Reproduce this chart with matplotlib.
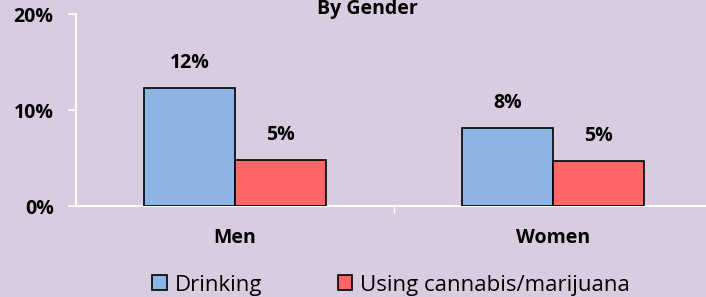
import matplotlib
matplotlib.use("Agg")
import matplotlib.pyplot as plt
from matplotlib.patches import Patch

categories = ["Men", "Women"]
drinking = [12.3, 8.1]
cannabis = [4.8, 4.7]
drinking_labels = ["12%", "8%"]
cannabis_labels = ["5%", "5%"]
yticks = [0, 10, 20]
ytick_labels = ["0%", "10%", "20%"]
series_names = ["Drinking", "Using cannabis/marijuana"]

bg = "#D9CCE1"
blue = "#8EB4E3"
red = "#FF6666"
plt.rcParams['font.family'] = ['Open Sans', 'DejaVu Sans']

fig = plt.figure(figsize=(7.06, 2.97), dpi=100)
fig.patch.set_facecolor(bg)
W, H = 706, 297
ax = fig.add_axes([76 / W, (H - 206) / H, 636 / W, 192 / H])
ax.set_facecolor(bg)

x = list(range(len(categories)))
bw = 0.286
ax.bar([i - bw / 2 for i in x], drinking, bw, color=blue, edgecolor="black", linewidth=1.2, zorder=3)
ax.bar([i + bw / 2 for i in x], cannabis, bw, color=red, edgecolor="black", linewidth=1.2, zorder=3)

fs = 14
for i in x:
    ax.text(i - bw / 2, drinking[i] + 2.6, drinking_labels[i], ha="center", va="center",
            fontsize=fs, fontweight="bold")
    ax.text(i + bw / 2, cannabis[i] + 2.6, cannabis_labels[i], ha="center", va="center",
            fontsize=fs, fontweight="bold")

ax.set_xlim(-0.5, 1.5)
ax.set_ylim(0, 20)
ax.set_yticks(yticks)
ax.set_yticklabels(ytick_labels, fontsize=fs, fontweight="bold")
ax.set_xticks(x)
ax.set_xticklabels(categories, fontsize=fs, fontweight="bold")
ax.tick_params(axis="x", length=0, pad=16)
ax.set_xticks([0.5], minor=True)
ax.tick_params(axis="x", which="minor", length=5, width=1, color="white", direction="out")
ax.tick_params(axis="y", length=6, width=1.2, color="white", direction="out", pad=10)
for s in ["top", "right"]:
    ax.spines[s].set_visible(False)
ax.spines["left"].set_color("white")
ax.spines["bottom"].set_color("white")
ax.spines["left"].set_linewidth(1.5)
ax.spines["bottom"].set_linewidth(1.5)

fig.text(367 / W, 1 - 14 / H, "By Gender", ha="center", va="baseline", fontsize=fs, fontweight="bold")

handles = [Patch(facecolor=blue, edgecolor="black", linewidth=1.2),
           Patch(facecolor=red, edgecolor="black", linewidth=1.2)]
fig.legend(handles, series_names, loc="center", bbox_to_anchor=(391 / W, 1 - 285 / H), ncol=2,
           frameon=False, fontsize=16, handlelength=0.65, handleheight=0.65, handletextpad=0.35,
           columnspacing=3.4, borderpad=0, borderaxespad=0)

fig.savefig("out.png", dpi=100, facecolor=bg)
